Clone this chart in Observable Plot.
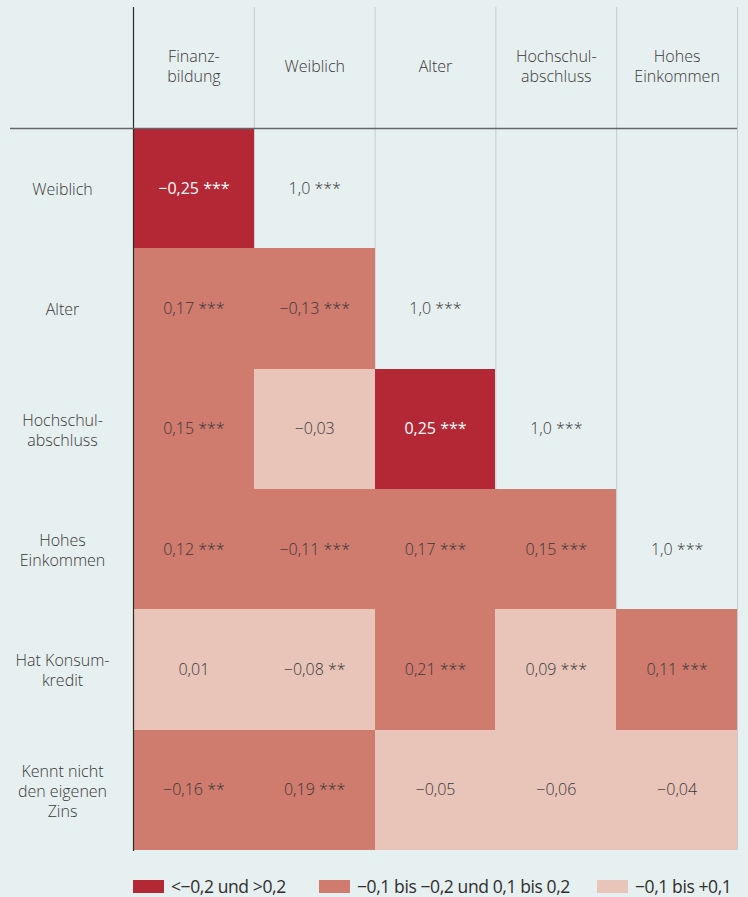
<!DOCTYPE html>
<html>
<head>
<meta charset="utf-8">
<script src="https://cdn.jsdelivr.net/npm/d3@7"></script>
<script src="https://cdn.jsdelivr.net/npm/@observablehq/plot@0.6"></script>
<style>
  html, body { margin: 0; padding: 0; background: #e7f0f1; }
  body { width: 748px; height: 897px; overflow: hidden; font-family: "Open Sans", sans-serif; }
  #chart svg { display: block; background: transparent; }
  #legend { position: relative; height: 37px; font-family: "Open Sans", sans-serif; font-size: 17.5px; line-height: 20px; font-weight: 400; color: #2e2e2e; letter-spacing: -0.4px; }
  #legend .item { position: absolute; top: 16px; height: 20px; display: flex; align-items: center; white-space: nowrap; }
  #legend .sw { width: 31px; height: 13px; margin-right: 7px; }
</style>
</head>
<body>
<div id="chart"></div>
<div id="legend"></div>
<script>
// Column headers (top) and row labels (left)
const columns = ["Finanz-\nbildung", "Weiblich", "Alter", "Hochschul-\nabschluss", "Hohes\nEinkommen"];
const rows = ["Weiblich", "Alter", "Hochschul-\nabschluss", "Hohes\nEinkommen", "Hat Konsum-\nkredit", "Kennt nicht\nden eigenen\nZins"];

// Correlation values per row (lower triangle incl. diagonal)
const valWeiblich   = [-0.25, 1.0];
const valAlter      = [0.17, -0.13, 1.0];
const valHochschul  = [0.15, -0.03, 0.25, 1.0];
const valEinkommen  = [0.12, -0.11, 0.17, 0.15, 1.0];
const valKonsum     = [0.01, -0.08, 0.21, 0.09, 0.11];
const valZins       = [-0.16, 0.19, -0.05, -0.06, -0.04];

// Significance stars per row
const starWeiblich  = ["***", "***"];
const starAlter     = ["***", "***", "***"];
const starHochschul = ["***", "", "***", "***"];
const starEinkommen = ["***", "***", "***", "***", "***"];
const starKonsum    = ["", "**", "***", "***", "***"];
const starZins      = ["**", "***", "", "", ""];

// Colour class per cell as shown in the chart (diag = no fill)
const clsWeiblich   = ["strong", "diag"];
const clsAlter      = ["mid", "mid", "diag"];
const clsHochschul  = ["mid", "weak", "strong", "diag"];
const clsEinkommen  = ["mid", "mid", "mid", "mid", "diag"];
const clsKonsum     = ["weak", "weak", "mid", "weak", "mid"];
const clsZins       = ["mid", "mid", "weak", "weak", "weak"];

// Legend classes
const classes = ["strong", "mid", "weak"];
const classLabels = ["<−0,2 und >0,2", "−0,1 bis −0,2 und 0,1 bis 0,2", "−0,1 bis +0,1"];
const classColors = ["#b42735", "#cf7b6e", "#e9c4b9"];

const allVals = [valWeiblich, valAlter, valHochschul, valEinkommen, valKonsum, valZins];
const allStars = [starWeiblich, starAlter, starHochschul, starEinkommen, starKonsum, starZins];
const allCls = [clsWeiblich, clsAlter, clsHochschul, clsEinkommen, clsKonsum, clsZins];

const cells = [];
allVals.forEach((vals, ri) => {
  vals.forEach((v, ci) => {
    const cls = allCls[ri][ci];
    const a = Math.abs(v);
    const num = cls === "diag" ? "1,0" : (v < 0 ? "−" : "") + a.toFixed(2).replace(".", ",");
    const st = allStars[ri][ci];
    cells.push({ri, ci, v, cls, label: st ? num + " " + st : num});
  });
});

const textColor = "#383838";

const chart = Plot.plot({
  width: 748,
  height: 860,
  marginLeft: 133,
  marginRight: 11,
  marginTop: 128,
  marginBottom: 10,
  style: {background: "transparent", fontFamily: "'Open Sans', sans-serif"},
  x: {domain: [0, columns.length], axis: null},
  y: {domain: [0, rows.length], reverse: true, axis: null},
  color: {type: "ordinal", domain: classes, range: classColors},
  marks: [
    // column grid lines, running up into the header area
    Plot.ruleX(d3.range(1, columns.length + 1), {stroke: "#c6cbcd", strokeWidth: 1, insetTop: -121}),
    // cells
    Plot.rect(cells.filter(d => d.cls !== "diag"), {
      x1: d => d.ci, x2: d => d.ci + 1,
      y1: d => d.ri, y2: d => d.ri + 1,
      fill: "cls", shapeRendering: "crispEdges"
    }),
    // left dark line
    Plot.ruleX([0], {stroke: "#2a2a2a", strokeWidth: 1.2, insetTop: -121, insetBottom: -1}),
    // header separator line
    Plot.ruleY([0], {stroke: "#646768", strokeWidth: 1.6, insetLeft: -123}),
    // cell labels (dark cells)
    Plot.text(cells.filter(d => d.cls === "strong"), {
      x: d => d.ci + 0.5, y: d => d.ri + 0.5,
      text: "label", fill: "white", fontSize: 16, fontWeight: 400
    }),
    // cell labels (other cells)
    Plot.text(cells.filter(d => d.cls !== "strong"), {
      x: d => d.ci + 0.5, y: d => d.ri + 0.5,
      text: "label", fill: textColor, fontSize: 16, fontWeight: 300
    }),
    // column headers
    Plot.text(columns, {
      x: (d, i) => i + 0.5, frameAnchor: "top", dy: -63, lineAnchor: "middle",
      text: d => d, fill: textColor, fontSize: 16, fontWeight: 300, lineHeight: 1.25
    }),
    // row labels
    Plot.text(rows, {
      y: (d, i) => i + 0.5, frameAnchor: "left", dx: -71, textAnchor: "middle", lineAnchor: "middle",
      text: d => d, fill: textColor, fontSize: 16, fontWeight: 300, lineHeight: 1.25
    })
  ]
});
document.getElementById("chart").appendChild(chart);

// Legend
const legend = document.getElementById("legend");
const legendLeft = [133, 319, 597];
classes.forEach((c, i) => {
  const item = document.createElement("div");
  item.className = "item";
  item.style.left = legendLeft[i] + "px";
  const sw = document.createElement("span");
  sw.className = "sw";
  sw.style.background = classColors[i];
  const tx = document.createElement("span");
  tx.textContent = classLabels[i];
  item.appendChild(sw);
  item.appendChild(tx);
  legend.appendChild(item);
});
</script>
</body>
</html>
